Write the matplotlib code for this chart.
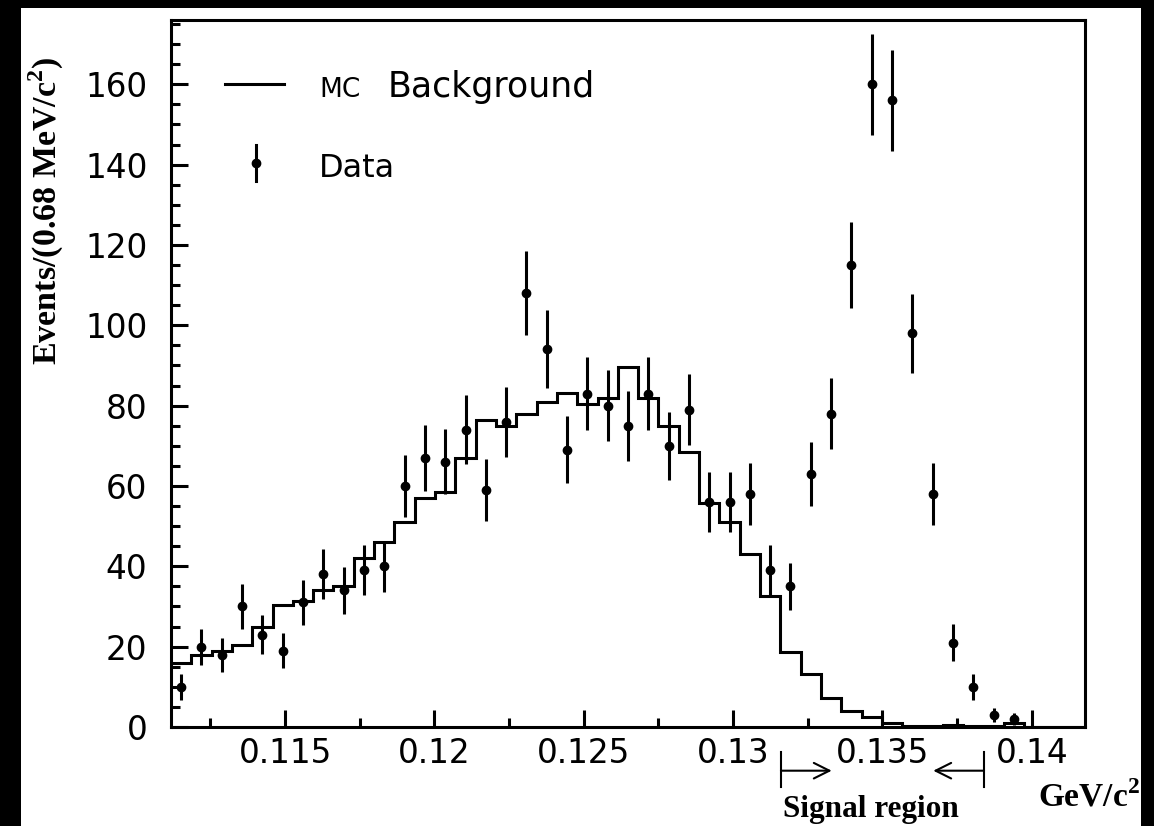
import numpy as np
import matplotlib.pyplot as plt
from matplotlib.patches import Rectangle
from matplotlib.ticker import MultipleLocator, FuncFormatter

plt.rcParams['mathtext.fontset'] = 'custom'
plt.rcParams['mathtext.rm'] = 'Liberation Serif'
plt.rcParams['mathtext.bf'] = 'Liberation Serif:bold'

# binning: 0.68 MeV/c^2 bins
bin_start = 0.11118
bin_width = 0.00068
n_bins = 45

data_counts = [10, 20, 18, 30, 23, 19, 31, 38, 34, 39, 40, 60, 67, 66, 74, 59,
               76, 108, 94, 69, 83, 80, 75, 83, 70, 79, 56, 56, 58, 39, 35, 63,
               78, 115, 160, 156, 98, 58, 21, 10, 3, 2]
data_errors = [3.2, 4.5, 4.2, 5.5, 4.8, 4.4, 5.6, 6.2, 5.8, 6.2, 6.3, 7.7,
               8.2, 8.1, 8.6, 7.7, 8.7, 10.4, 9.7, 8.3, 9.1, 8.9, 8.7, 9.1,
               8.4, 8.9, 7.5, 7.5, 7.6, 6.2, 5.9, 7.9, 8.8, 10.7, 12.6, 12.5,
               9.9, 7.6, 4.6, 3.2, 1.7, 1.4]
mc_counts = [16, 18, 19, 20.5, 25, 30.4, 31.4, 34, 35, 42, 46, 51, 57, 58.4,
             67, 76.5, 75, 78, 81, 83.2, 80.4, 82, 89.7, 82, 75, 68.5, 55.7,
             51, 43, 32.7, 18.7, 13.2, 7.1, 4.1, 2.6, 0.9, 0.2, 0.2, 0.4, 0.2,
             0.2, 0.9, 0, 0, 0]
signal_lo, signal_hi = 0.1316, 0.1384

edges = bin_start + bin_width * np.arange(n_bins + 1)
centers = 0.5 * (edges[:-1] + edges[1:])

W, H = 1154, 826
fig = plt.figure(figsize=(W / 100, H / 100), dpi=100, facecolor='black')
fig.patches.append(Rectangle((21 / W, 0), 1120 / W, 818 / H, transform=fig.transFigure,
                             facecolor='white', edgecolor='none', zorder=-10))
ax = fig.add_axes([171 / W, 1 - 727 / H, (1085 - 171) / W, (727 - 20) / H])
ax.set_facecolor('white')

ax.stairs(mc_counts, edges, color='black', lw=2.2, baseline=None)
ax.errorbar(centers[:len(data_counts)], data_counts, yerr=data_errors, fmt='o',
            color='black', ms=6, elinewidth=2.2, capsize=0)

ax.set_xlim(edges[0], edges[-1])
ax.set_ylim(0, 176)
ax.xaxis.set_major_locator(MultipleLocator(0.005))
ax.xaxis.set_minor_locator(MultipleLocator(0.0025))
ax.yaxis.set_major_locator(MultipleLocator(20))
ax.yaxis.set_minor_locator(MultipleLocator(5))
ax.xaxis.set_major_formatter(FuncFormatter(lambda v, p: '%g' % v))
ax.tick_params(which='both', direction='in', top=False, right=False, width=2.2,
               labelsize=23.5)
ax.tick_params(which='major', length=12.5)
ax.tick_params(which='minor', length=6.5)
ax.tick_params(axis='y', pad=17)
ax.tick_params(axis='x', pad=7)
for s in ax.spines.values():
    s.set_linewidth(2.2)

# legend
ta = ax.transAxes
ax.plot([0.0591, 0.1236], [0.9095, 0.9095], transform=ta, color='black', lw=2.2)
ax.text(0.1623, 0.8915, 'MC', fontsize=19, transform=ta, va='baseline')
ax.text(0.2374, 0.8915, 'Background', fontsize=25, transform=ta, va='baseline')
ax.plot([0.0927, 0.0927], [0.7977 - 0.0248, 0.7977 + 0.0248], transform=ta,
        color='black', lw=2.2)
ax.plot([0.0927], [0.7977], 'o', transform=ta, color='black', ms=6)
ax.text(0.1623, 0.7784, 'Data', fontsize=23, transform=ta, va='baseline')

# signal region marks below the axis
tx = ax.get_xaxis_transform()
arrow_len = 0.0017
for x0, x1 in [(signal_lo, signal_lo + arrow_len), (signal_hi, signal_hi - arrow_len)]:
    ax.plot([x0, x0], [-0.035, -0.085], transform=tx, color='black', lw=1.5,
            clip_on=False)
    ax.annotate('', xy=(x1, -0.0618), xytext=(x0, -0.0618), xycoords=tx,
                textcoords=tx, arrowprops=dict(arrowstyle='->', lw=1.5,
                                               mutation_scale=28, shrinkA=0, shrinkB=0))
ax.text(0.5 * (signal_lo + signal_hi) - 0.0004, -0.1273, 'Signal region', transform=tx,
        ha='center', va='baseline', fontsize=22.5, fontweight='bold',
        family='Liberation Serif')
ax.text(1.06, -0.112, r'GeV/c$^{\mathbf{2}}$', transform=ta, ha='right',
        va='baseline', fontsize=24, fontweight='bold', family='Liberation Serif')

fig.text(46 / W, 1 - 211 / H, r'Events/(0.68 MeV/c$^{\mathbf{2}}$)', rotation=90,
         ha='center', va='center', fontsize=24.5, fontweight='bold',
         family='Liberation Serif')

fig.savefig('out.png', dpi=100, facecolor=fig.get_facecolor())
